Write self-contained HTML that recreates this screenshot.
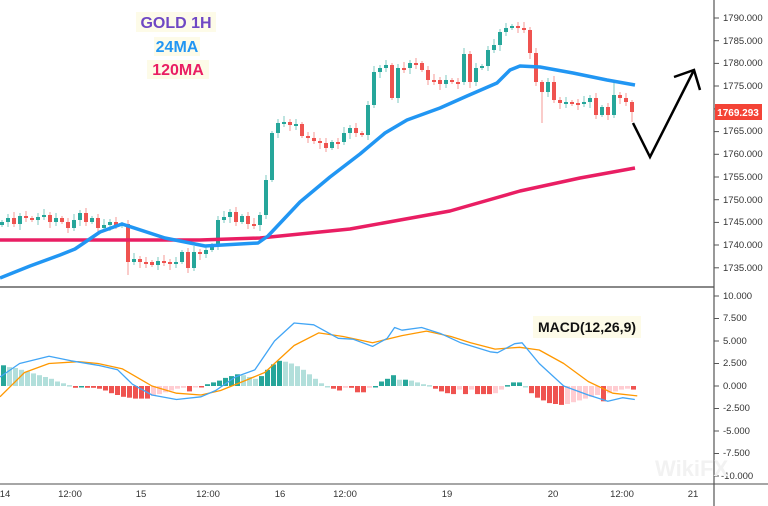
<!DOCTYPE html>
<html><head><meta charset="utf-8"><style>
html,body{margin:0;padding:0;background:#fff;}
svg{display:block;font-family:"Liberation Sans",sans-serif;}
</style></head><body>
<svg id="s" width="768" height="506" viewBox="0 0 768 506" xmlns="http://www.w3.org/2000/svg">
<rect width="768" height="506" fill="#fff"/>
<g id="c"></g>
<line x1="0" y1="287" x2="714" y2="287" stroke="#888" stroke-width="2"/>
<line x1="0" y1="484" x2="768" y2="484" stroke="#888" stroke-width="1.5"/>
<line x1="714" y1="0" x2="714" y2="506" stroke="#555" stroke-width="1.2"/>
<g font-size="9.5" fill="#333">
<text x="723" y="21">1790.000</text><text x="723" y="44">1785.000</text><text x="723" y="66">1780.000</text><text x="723" y="89">1775.000</text><text x="723" y="134">1765.000</text><text x="723" y="157">1760.000</text><text x="723" y="180">1755.000</text><text x="723" y="203">1750.000</text><text x="723" y="225">1745.000</text><text x="723" y="248">1740.000</text><text x="723" y="271">1735.000</text>
<text x="723" y="299">10.000</text><text x="723" y="321">7.500</text><text x="723" y="344">5.000</text><text x="723" y="366">2.500</text><text x="723" y="389">0.000</text><text x="723" y="411">-2.500</text><text x="723" y="434">-5.000</text><text x="723" y="456">-7.500</text><text x="721" y="479">-10.000</text>
<text x="5" y="497" text-anchor="middle">14</text><text x="70" y="497" text-anchor="middle">12:00</text><text x="141" y="497" text-anchor="middle">15</text><text x="208" y="497" text-anchor="middle">12:00</text><text x="280" y="497" text-anchor="middle">16</text><text x="345" y="497" text-anchor="middle">12:00</text><text x="447" y="497" text-anchor="middle">19</text><text x="553" y="497" text-anchor="middle">20</text><text x="622" y="497" text-anchor="middle">12:00</text><text x="693" y="497" text-anchor="middle">21</text>
</g>
<g stroke="#555" stroke-width="1" id="ticks"></g>
<rect x="715" y="104" width="47" height="16" fill="#f44336"/>
<text x="738" y="116" font-size="10" fill="#fff" text-anchor="middle" font-weight="bold">1769.293</text>
<polyline points="633,123 650,157 694,70" fill="none" stroke="#000" stroke-width="2.5"/>
<polyline points="674,77 694,70 700,90" fill="none" stroke="#000" stroke-width="2.5"/>
<rect x="136" y="12" width="80" height="20" fill="#fdfbe8"/>
<text x="176" y="28" font-size="16" font-weight="bold" fill="#6f48c4" text-anchor="middle">GOLD 1H</text>
<rect x="154" y="37" width="46" height="19" fill="#fdfbe8"/>
<text x="177" y="52" font-size="16" font-weight="bold" fill="#2196f3" text-anchor="middle">24MA</text>
<rect x="147" y="60" width="62" height="19" fill="#fdfbe8"/>
<text x="178" y="75" font-size="16" font-weight="bold" fill="#e91e63" text-anchor="middle">120MA</text>
<rect x="533" y="316" width="108" height="22" fill="#fdfbe8"/>
<text x="587" y="332" font-size="14" font-weight="bold" fill="#111" text-anchor="middle">MACD(12,26,9)</text>
<text x="655" y="476" font-size="22" font-weight="bold" fill="#f2f2f2">WikiFX</text>
</svg>
<script>
var NS="http://www.w3.org/2000/svg",g=document.getElementById("c");
function el(t,a){var e=document.createElementNS(NS,t);for(var k in a)e.setAttribute(k,a[k]);g.appendChild(e);return e;}
var cl=[222,218,224,216,218,220,217,215,222,218,222,228,220,213,222,218,228,225,222,225,224,262,259,262,262,265,261,262,264,262,252,268,252,254,250,245,220,217,212,222,216,224,225,215,180,133,123,122,125,124,136,138,141,143,148,142,142,133,128,133,135,105,72,68,65,98,68,68,63,63,70,80,80,84,80,82,82,54,82,68,66,50,45,32,28,26,28,30,53,82,92,82,100,103,102,103,103,102,98,115,107,115,95,98,102,112];
var prev=225;
for(var i=0;i<cl.length;i++){var x=2+6*i,o=prev,c=cl[i],up=c<o,col=up?"#26a69a":"#ef5350";
var t=Math.min(o,c),b=Math.max(o,c);if(b-t<2){b=t+2;}
var wt=t-2-(i*7%5),wb=b+2+(i*3%5);
if(i==21)wb=275;if(i==90)wb=123;if(i==102)wt=82;if(i==105)wb=122;
el("line",{x1:x,y1:wt,x2:x,y2:wb,stroke:col,"stroke-opacity":0.6,"stroke-width":1});
el("rect",{x:x-2,y:t,width:4,height:b-t,fill:col});prev=c;}
function pl(p,col,w){el("path",{d:"M"+p.map(function(q){return q[0]+","+q[1]}).join(" L"),fill:"none",stroke:col,"stroke-width":w,"stroke-linejoin":"round"});}
pl([[0,240],[100,240],[200,240],[260,238],[350,229],[450,211],[520,191],[580,178],[635,168]],"#e91e63",3.5);
pl([[0,278],[30,266],[60,255],[75,249],[100,232],[122,224],[165,238],[205,246],[258,243],[268,236],[300,202],[330,177],[360,154],[385,133],[407,120],[440,108],[467,96],[497,83],[510,70],[520,66],[540,67],[573,73],[607,80],[635,85]],"#2196f3",3.5);
var H=[[0,2.3],[6,2.1],[12,2.0],[18,1.8],[24,1.6],[30,1.4],[36,1.2],[42,1.0],[48,0.8],[54,0.5],[60,0.3],[66,0.1],[72,-0.2],[78,0],[84,-0.2],[90,-0.2],[96,-0.3],[102,-0.5],[108,-0.8],[114,-1.0],[120,-1.2],[126,-1.3],[132,-1.4],[138,-1.4],[144,-1.4],[150,-1.1],[156,-0.9],[162,-0.7],[168,-0.5],[174,-0.3],[180,-0.2],[186,-0.6],[192,-0.1],[198,-0.1],[204,0.2],[210,0.4],[216,0.6],[222,0.9],[228,1.1],[234,1.3],[240,1.2],[246,1.0],[252,0.8],[258,1.1],[264,1.8],[270,2.4],[276,2.8],[282,2.7],[288,2.5],[294,2.2],[300,1.8],[306,1.3],[312,0.8],[318,0.3],[324,0],[330,-0.3],[336,-0.5],[342,-0.2],[348,-0.2],[354,-0.7],[360,-0.7],[366,-0.2],[372,0],[378,0.5],[384,0.8],[390,1.2],[396,0.7],[402,0.7],[408,0.6],[414,0.4],[420,0.2],[426,0.1],[432,-0.3],[438,-0.6],[444,-0.8],[450,-0.9],[456,-0.4],[462,-0.9],[468,-0.4],[474,-0.9],[480,-0.9],[486,-0.9],[492,-0.8],[498,-0.4],[504,0.1],[510,0.4],[516,0.4],[522,0],[528,-0.8],[534,-1.3],[540,-1.6],[546,-1.9],[552,-2.0],[558,-2.1],[564,-2.0],[570,-1.8],[576,-1.6],[582,-1.4],[588,-1.2],[594,-1.0],[600,-1.7],[606,-0.8],[612,-0.6],[618,-0.4],[624,-0.3],[630,-0.4]];
for(var i=0;i<H.length;i++){var v=H[i][1],p=i?H[i-1][1]:v,col;
if(v>=0)col=(v>=p)?"#26a69a":"#b2dfdb";else col=(v<=p)?"#ef5350":"#ffcdd2";
var y0=386,y1=386-v*9;el("rect",{x:H[i][0]+1,y:Math.min(y0,y1),width:5,height:Math.max(1.5,Math.abs(y1-y0)),fill:col});}
function mp(a){return a.map(function(q){return [q[0]/2.04,386-q[1]*9];});}
pl(mp([[0,-1.2],[50,1.5],[100,2.5],[160,2.7],[200,2.5],[250,1.9],[310,0],[360,-0.8],[410,-1.0],[450,-0.5],[500,0.6],[540,1.5],[600,4.5],[650,5.9],[700,5.5],[760,4.8],[820,5.6],[870,6.1],[920,5.5],[960,4.8],[1010,4.1],[1060,4.3],[1100,4.0],[1150,2.5],[1200,0.5],[1250,-0.8],[1300,-1.1]]),"#ff9800",1.3);
pl(mp([[0,1.0],[40,2.5],[100,3.3],[145,2.8],[200,2.3],[240,1.8],[270,0.2],[310,-1.0],[360,-1.5],[410,-1.2],[440,-0.5],[480,1.0],[520,1.8],[560,5],[600,7],[640,6.8],[690,5.3],[720,5.2],[760,4.4],[790,5.3],[805,6.5],[820,6.2],[860,6.5],[900,5.8],[940,4.8],[1000,3.8],[1015,3.7],[1050,4.7],[1065,4.8],[1100,2.5],[1150,0],[1200,-1.0],[1240,-1.7],[1270,-1.3],[1295,-1.5]]),"#42a5f5",1.3);
var tk=document.getElementById("ticks");
[18,40.7,63.4,86,108.9,131.6,154.3,177,199.7,222.4,245,267.8,296,318.5,341,363.5,386,408.5,431,453.5,476].forEach(function(y){var l=document.createElementNS(NS,"line");l.setAttribute("x1",714);l.setAttribute("x2",719);l.setAttribute("y1",y);l.setAttribute("y2",y);tk.appendChild(l);});
</script>
</body></html>
